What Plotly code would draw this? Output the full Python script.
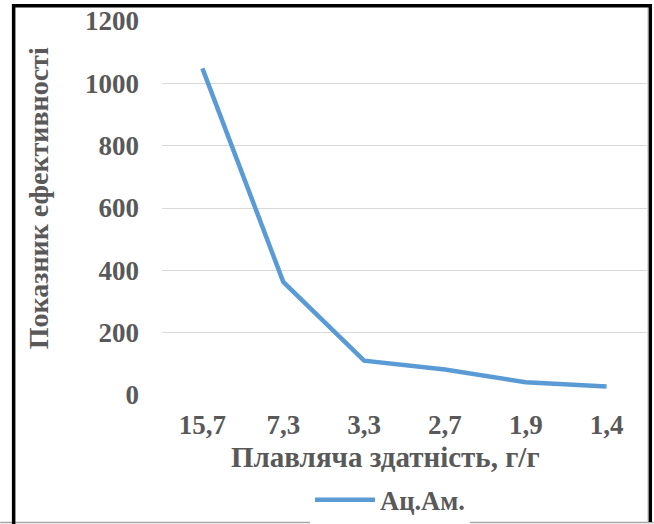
import plotly.graph_objects as go

# Absorbency (g/g) categories and the efficiency index for the series
categories = ["15,7", "7,3", "3,3", "2,7", "1,9", "1,4"]
efficiency = [1048, 363, 110, 82, 41, 27]
series_name = "Ац.Ам."
y_ticks = [0, 200, 400, 600, 800, 1000, 1200]

FONT = "Liberation Serif"
GREY = "#595959"

W, H = 654, 524
L, R, T, B = 162, 6.5, 20.7, 129
pw, ph = W - L - R, H - T - B


def px(x):
    return (x - L) / pw


def py(y):
    return (H - B - y) / ph


def font(size):
    return dict(family=FONT, size=size, color=GREY, weight="bold")


fig = go.Figure()
fig.add_trace(go.Scatter(
    x=categories, y=efficiency, name=series_name, mode="lines",
    line=dict(color="#5B9BD5", width=4.5),
))

fig.update_layout(
    width=W, height=H,
    margin=dict(l=L, r=R, t=T, b=B, pad=0, autoexpand=False),
    paper_bgcolor="white", plot_bgcolor="white",
    font=font(27),
    showlegend=True,
    legend=dict(orientation="h", xref="container", yref="container",
                x=390 / W, xanchor="center", y=1 - 500 / H, yanchor="middle",
                font=font(26.5), itemwidth=60),
    xaxis=dict(type="category", showgrid=False, zeroline=False,
               showline=False, ticks="", ticklabelstandoff=11,
               automargin=False, tickfont=font(27), range=[-0.5, 5.5]),
    yaxis=dict(range=[0, 1200], tickvals=y_ticks, showgrid=True,
               gridcolor="#D9D9D9", gridwidth=1, zeroline=False,
               showline=False, ticks="", ticklabelstandoff=22,
               automargin=False, tickfont=font(27)),
)

# Axis titles
fig.add_annotation(text="Плавляча здатність, г/г", xref="paper", yref="paper",
                   x=px(386), y=py(457), xanchor="center", yanchor="middle",
                   showarrow=False, font=font(29))
fig.add_annotation(text="Показник ефективності", xref="paper", yref="paper",
                   x=px(38), y=py(198), xanchor="center", yanchor="middle",
                   textangle=-90, showarrow=False, font=font(28))

# Frame around the chart
fig.add_shape(type="line", xref="paper", yref="paper",
              x0=px(0), x1=px(W), y0=py(522.5), y1=py(522.5),
              line=dict(color="#A6A6A6", width=1.5))
fig.add_shape(type="line", xref="paper", yref="paper",
              x0=px(648), x1=px(648), y0=py(7), y1=py(522),
              line=dict(color="#D9D9D9", width=1))
fig.add_shape(type="path", xref="paper", yref="paper",
              path=f"M {px(13.5)},{py(524)} L {px(13.5)},{py(5.5)} "
                   f"L {px(650.8)},{py(5.5)} L {px(650.8)},{py(522)}",
              line=dict(color="black", width=3.5))

fig.write_html("out.html")
